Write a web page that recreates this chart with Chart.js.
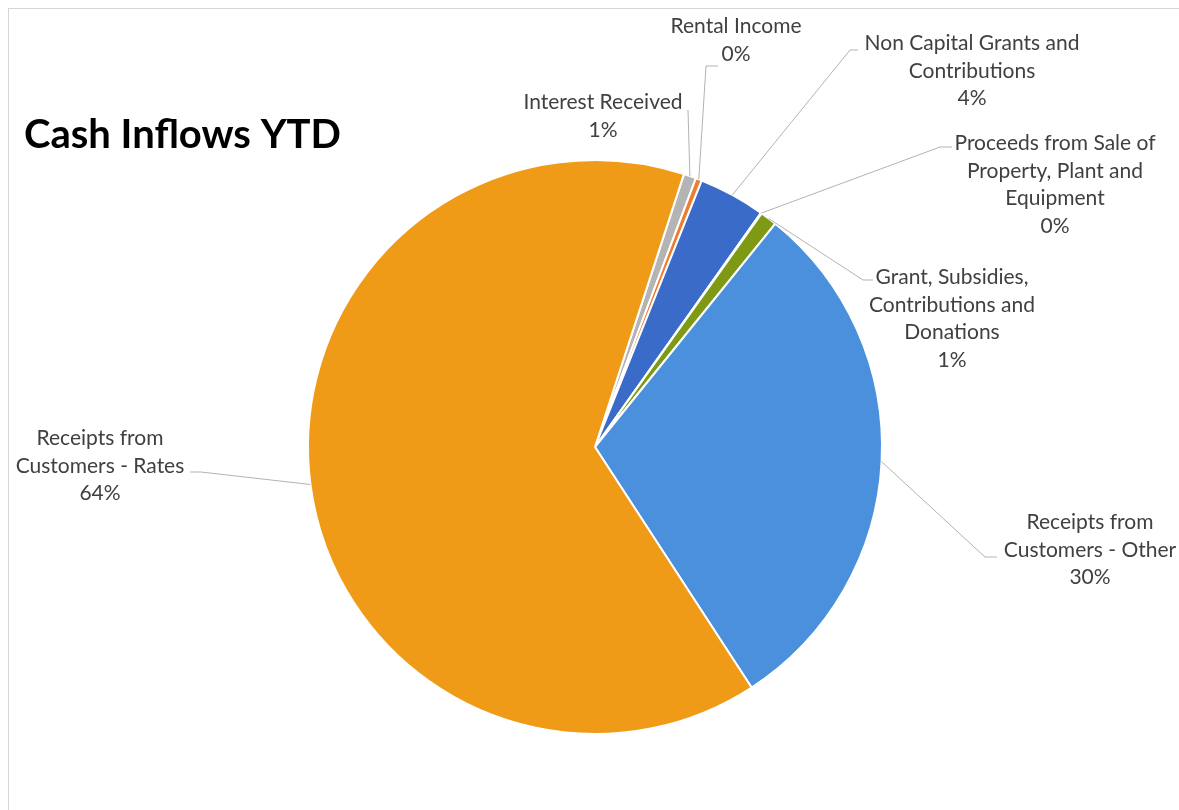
<!DOCTYPE html>
<html lang="en">
<head>
  <meta charset="UTF-8" />
  <title>Cash Inflows YTD</title>
  <script src="https://cdn.jsdelivr.net/npm/chart.js"></script>
  <style>
    body {
      margin: 0;
      background: #fff;
    }
    .moldura {
      position: absolute;
      left: 8px;
      top: 8px;
      right: 0;
      bottom: 0;
      border-top: 1px solid #d6d6d6;
      border-left: 1px solid #d6d6d6;
    }
    canvas {
      position: absolute;
      left: 0;
      top: 0;
    }
  </style>
</head>
<body>
  <div class="moldura"></div>
  <canvas id="grafico" width="1179" height="810"></canvas>

  <script>
    // Categorias e valores (% do total de entradas)
    const categorias = [
      'Interest Received',
      'Rental Income',
      'Non Capital Grants and Contributions',
      'Proceeds from Sale of Property, Plant and Equipment',
      'Grant, Subsidies, Contributions and Donations',
      'Receipts from Customers - Other',
      'Receipts from Customers - Rates'
    ];
    const valores = [0.7, 0.35, 3.75, 0.05, 0.95, 30.0, 64.2];
    const cores = ['#b4b4b4', '#ed7d31', '#3b6bc8', '#ffc000', '#7e9a14', '#4a90dc', '#f09b17'];

    // Texto de cada rótulo, quebrado em linhas
    const textos = [
      ['Interest Received'],
      ['Rental Income'],
      ['Non Capital Grants and', 'Contributions'],
      ['Proceeds from Sale of', 'Property, Plant and', 'Equipment'],
      ['Grant, Subsidies,', 'Contributions and', 'Donations'],
      ['Receipts from', 'Customers - Other'],
      ['Receipts from', 'Customers - Rates']
    ];

    // Posição dos rótulos e início das linhas de chamada
    const layoutRotulos = [
      { x: 603, y: 102, lead: [[688, 110]] },
      { x: 736, y: 26, lead: [[718, 66], [706, 66]] },
      { x: 972, y: 43, lead: [[858, 50], [850, 50]] },
      { x: 1055, y: 143, lead: [[952, 147], [940, 147]] },
      { x: 952, y: 277, lead: [[873, 280], [863, 280]] },
      { x: 1090, y: 522, lead: [[997, 557], [985, 557]] },
      { x: 100, y: 438, lead: [[190, 472], [201, 472]] }
    ];

    const rotulosPlugin = {
      id: 'rotulos',
      afterDatasetsDraw(chart) {
        const ctx = chart.ctx;
        const meta = chart.getDatasetMeta(0);
        const total = valores.reduce((a, b) => a + b, 0);
        ctx.save();

        // Título
        ctx.font = 'bold 40px Lato';
        ctx.fillStyle = '#000';
        ctx.textAlign = 'left';
        ctx.textBaseline = 'alphabetic';
        ctx.fillText('Cash Inflows YTD', 24, 148);

        meta.data.forEach((arc, i) => {
          const p = arc.getProps(['x', 'y', 'startAngle', 'endAngle', 'outerRadius'], true);
          const meio = (p.startAngle + p.endAngle) / 2;
          const ex = p.x + Math.cos(meio) * p.outerRadius;
          const ey = p.y + Math.sin(meio) * p.outerRadius;
          const pos = layoutRotulos[i];

          // Linha de chamada
          ctx.strokeStyle = '#b3b3b3';
          ctx.lineWidth = 1;
          ctx.beginPath();
          pos.lead.forEach((pt, k) => k ? ctx.lineTo(pt[0], pt[1]) : ctx.moveTo(pt[0], pt[1]));
          ctx.lineTo(ex, ey);
          ctx.stroke();

          // Texto + percentual
          const linhas = [...textos[i], Math.round(valores[i] / total * 100) + '%'];
          ctx.font = '21px Lato';
          ctx.fillStyle = '#404040';
          ctx.textAlign = 'center';
          ctx.textBaseline = 'middle';
          linhas.forEach((t, k) => ctx.fillText(t, pos.x, pos.y + k * 27.8));
        });

        ctx.restore();
      }
    };

    new Chart(document.getElementById('grafico').getContext('2d'), {
      type: 'pie',
      data: {
        labels: categorias,
        datasets: [{
          data: valores,
          backgroundColor: cores,
          borderColor: '#ffffff',
          borderWidth: 2
        }]
      },
      options: {
        responsive: false,
        animation: false,
        rotation: 18.05,
        layout: { padding: { left: 307, right: 296, top: 159, bottom: 75 } },
        plugins: {
          legend: { display: false },
          tooltip: { enabled: false }
        }
      },
      plugins: [rotulosPlugin]
    });
  </script>
</body>
</html>
